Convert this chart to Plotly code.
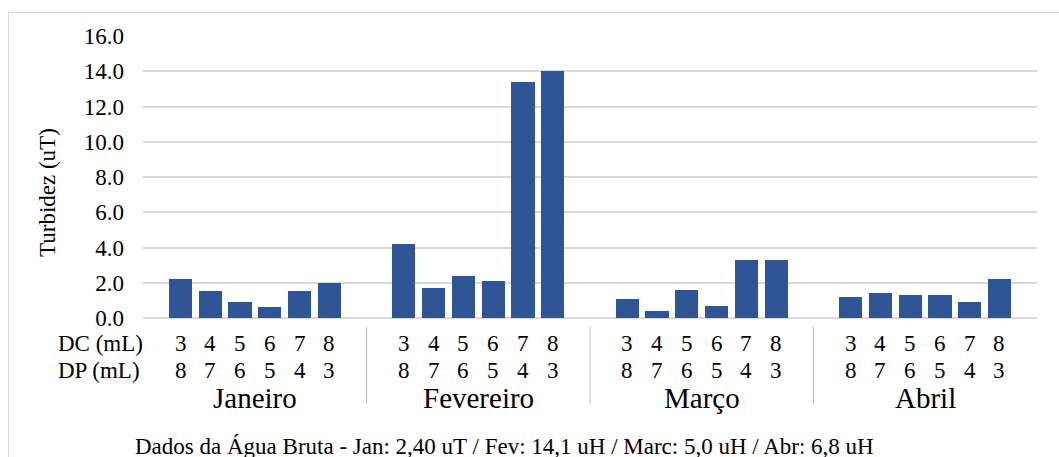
import plotly.graph_objects as go

# ---------------- data ----------------
months = ["Janeiro", "Fevereiro", "Março", "Abril"]
dc_labels = ["3", "4", "5", "6", "7", "8"]
dp_labels = ["8", "7", "6", "5", "4", "3"]
jan = [2.2, 1.55, 0.9, 0.6, 1.55, 2.0]
fev = [4.2, 1.7, 2.4, 2.1, 13.4, 14.0]
mar = [1.1, 0.4, 1.6, 0.7, 3.3, 3.3]
abr = [1.2, 1.4, 1.3, 1.3, 0.9, 2.2]
series = [jan, fev, mar, abr]
y_ticks = [0, 2, 4, 6, 8, 10, 12, 14, 16]
y_title = "Turbidez (uT)"
row_titles = ["DC (mL)", "DP (mL)"]
note = "Dados da Água Bruta - Jan: 2,40 uT / Fev: 14,1 uH / Marc: 5,0 uH / Abr: 6,8 uH"

# ---------------- layout helpers ----------------
W, H = 1059, 457
L, R, T, B = 143, 1037, 36, 318      # plot area in pixels
GROUP_STEP = 7.5                      # category slots per month (6 bars + gap)
EDGE = 1.26                           # slot padding at both ends
FONT = "Liberation Serif"
BAR_COLOR = "#2F5597"
GRID = "#D9D9D9"


def py(p):
    return (B - p) / (B - T)


def px(p):
    return (p - L) / (R - L)


xs, ys, groups_x = [], [], []
for g, vals in enumerate(series):
    gx = [g * GROUP_STEP + i for i in range(len(vals))]
    xs += gx
    ys += vals
    groups_x.append(gx)

fig = go.Figure()
fig.add_trace(go.Bar(x=xs, y=ys, width=0.78, marker=dict(color=BAR_COLOR, line=dict(width=0)),
                     showlegend=False, hoverinfo="y"))

annotations = []
# category labels
for g, gx in enumerate(groups_x):
    for i, x in enumerate(gx):
        annotations.append(dict(x=x, y=py(343), xref="x", yref="paper", text=dc_labels[i],
                                showarrow=False, font=dict(family=FONT, size=23, color="black"),
                                xanchor="center", yanchor="middle"))
        annotations.append(dict(x=x, y=py(370), xref="x", yref="paper", text=dp_labels[i],
                                showarrow=False, font=dict(family=FONT, size=23, color="black"),
                                xanchor="center", yanchor="middle"))
    annotations.append(dict(x=sum(gx) / len(gx), y=py(398), xref="x", yref="paper", text=months[g],
                            showarrow=False, font=dict(family=FONT, size=29, color="black"),
                            xanchor="center", yanchor="middle"))

# row titles
for k, t in enumerate(row_titles):
    annotations.append(dict(x=px(56), y=py(343 + 27 * k), xref="paper", yref="paper", text=t,
                            showarrow=False, font=dict(family=FONT, size=23, color="black"),
                            xanchor="left", yanchor="middle"))

# y title
annotations.append(dict(x=px(47), y=py(193), xref="paper", yref="paper", text=y_title, textangle=-90,
                        showarrow=False, font=dict(family=FONT, size=23, color="black"),
                        xanchor="center", yanchor="middle"))

# note
annotations.append(dict(x=px(133), y=py(446), xref="paper", yref="paper", text=note,
                        showarrow=False, font=dict(family=FONT, size=23, color="black"),
                        xanchor="left", yanchor="middle"))

shapes = []
# group separators
for g in range(len(groups_x) - 1):
    xm = (groups_x[g][-1] + groups_x[g + 1][0]) / 2
    shapes.append(dict(type="line", xref="x", yref="paper", x0=xm, x1=xm, y0=py(327), y1=py(404),
                       line=dict(color="#BFBFBF", width=1)))
# chart border
shapes.append(dict(type="rect", xref="paper", yref="paper", x0=px(8.5), x1=px(1075), y0=py(12.5), y1=py(475),
                   line=dict(color=GRID, width=1), layer="below"))

fig.update_layout(
    width=W, height=H,
    margin=dict(l=L, r=W - R, t=T, b=H - B),
    paper_bgcolor="white", plot_bgcolor="white",
    bargap=0,
    font=dict(family=FONT, color="black"),
    xaxis=dict(range=[-EDGE, (len(series) - 1) * GROUP_STEP + 5 + EDGE], showticklabels=False,
               showgrid=False, zeroline=False, showline=False, fixedrange=True),
    yaxis=dict(range=[0, 16], tickvals=y_ticks, ticktext=[f"{v:.1f}" for v in y_ticks],
               showgrid=True, gridcolor=GRID, gridwidth=1.5, zeroline=True, zerolinecolor=GRID,
               zerolinewidth=1.5, showline=False, ticks="", ticklabelstandoff=18,
               tickfont=dict(family=FONT, size=23, color="black"), fixedrange=True),
    annotations=annotations,
    shapes=shapes,
)

fig.write_html("out.html", config={"displayModeBar": False},
               post_script="document.body.style.margin='0';document.body.style.overflow='hidden';")
